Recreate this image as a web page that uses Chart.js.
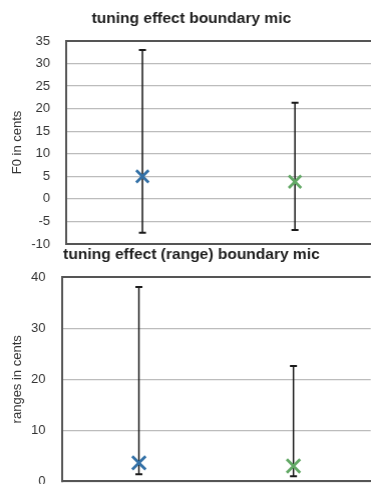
<!DOCTYPE html>
<html>
<head>
<meta charset="utf-8">
<script src="https://cdn.jsdelivr.net/npm/chart.js@4/dist/chart.umd.min.js"></script>
<style>
  html, body { margin: 0; padding: 0; background: #fff; overflow: hidden; width: 371px; height: 484px; }
  .wrap { position: absolute; left: 0; }
  #w1 { top: 0; width: 381.7px; height: 268px; }
  #w2 { top: 240px; width: 381.9px; height: 265.3px; }
</style>
</head>
<body>
<div class="wrap" id="w1"><canvas id="c1"></canvas></div>
<div class="wrap" id="w2"><canvas id="c2"></canvas></div>
<script>
// ---- data ----
const categories = ['group 1', 'group 2'];
const markerColors = ['#3270a6', '#62a865'];

const tuningMean = [5.0, 3.8];
const tuningHigh = [33.0, 21.3];
const tuningLow = [-7.5, -6.9];
const tuningTicks = [-10, -5, 0, 5, 10, 15, 20, 25, 30, 35];

const rangeMean = [3.6, 3.0];
const rangeHigh = [38.1, 22.6];
const rangeLow = [1.4, 1.0];
const rangeTicks = [0, 10, 20, 30, 40];

const FONT = "'Liberation Sans', Arial, Helvetica, sans-serif";

// error bars drawn through the scales
const errorBarPlugin = {
  id: 'errorBars',
  beforeDatasetsDraw(chart, args, opts) {
    const ctx = chart.ctx;
    const xs = chart.scales.x, ys = chart.scales.y;
    ctx.save();
    ctx.strokeStyle = '#1a1a1a';
    opts.low.forEach((lo, i) => {
      const hi = opts.high[i];
      const x = xs.getPixelForValue(i);
      const yl = ys.getPixelForValue(lo);
      const yh = ys.getPixelForValue(hi);
      ctx.lineWidth = 1.5;
      ctx.beginPath();
      ctx.moveTo(x, yl); ctx.lineTo(x, yh);
      ctx.stroke();
      ctx.lineWidth = 2;
      ctx.beginPath();
      ctx.moveTo(x - 3.5, yl); ctx.lineTo(x + 3.5, yl);
      ctx.moveTo(x - 3.5, yh); ctx.lineTo(x + 3.5, yh);
      ctx.stroke();
    });
    ctx.restore();
  }
};

function makeChart(id, cfg) {
  const yMin = cfg.ticks[0], yMax = cfg.ticks[cfg.ticks.length - 1];
  return new Chart(document.getElementById(id), {
    type: 'line',
    data: {
      labels: categories,
      datasets: [{
        data: cfg.mean,
        showLine: false,
        pointStyle: 'crossRot',
        pointRadius: cfg.radius,
        pointHoverRadius: cfg.radius,
        pointBorderWidth: 2.8,
        pointBorderColor: markerColors,
        pointBackgroundColor: markerColors
      }]
    },
    options: {
      responsive: true,
      maintainAspectRatio: false,
      animation: false,
      events: [],
      layout: { padding: { left: 0, right: 0, top: 0, bottom: 0 } },
      plugins: {
        legend: { display: false },
        tooltip: { enabled: false },
        title: {
          display: true,
          text: cfg.title,
          color: '#1e1e1e',
          font: { family: FONT, size: 15.5, weight: 'bold', lineHeight: 1.2 },
          padding: { top: cfg.titleTop, bottom: cfg.titleBottom }
        },
        errorBars: { low: cfg.low, high: cfg.high }
      },
      scales: {
        x: {
          type: 'category',
          offset: true,
          grid: { display: false, drawTicks: false },
          ticks: { display: false },
          border: { display: true, color: '#555', width: 2 },
          afterFit: s => { s.height = cfg.xHeight; }
        },
        y: {
          min: yMin,
          max: yMax,
          afterBuildTicks: s => { s.ticks = cfg.ticks.map(v => ({ value: v })); },
          grid: {
            drawTicks: false,
            color: c => (c.tick && c.tick.value === yMax) ? '#555' : '#bcbcbc',
            lineWidth: c => (c.tick && c.tick.value === yMax) ? 2 : 1.3
          },
          border: { display: true, color: '#555', width: 2 },
          ticks: {
            color: '#333',
            padding: 16,
            font: { family: FONT, size: 13 }
          },
          title: {
            display: true,
            text: cfg.yTitle,
            color: '#333',
            font: { family: FONT, size: 13 },
            padding: { top: 10, bottom: 0 }
          },
          afterFit: s => { s.width = cfg.yWidth; }
        }
      }
    },
    plugins: [errorBarPlugin]
  });
}

makeChart('c1', {
  title: 'tuning effect boundary mic',
  yTitle: 'F0 in cents',
  mean: tuningMean, low: tuningLow, high: tuningHigh, ticks: tuningTicks,
  titleTop: 9, titleBottom: 13.4, xHeight: 24, yWidth: 66, radius: 8.7
});

makeChart('c2', {
  title: 'tuning effect (range) boundary mic',
  yTitle: 'ranges in cents',
  mean: rangeMean, low: rangeLow, high: rangeHigh, ticks: rangeTicks,
  titleTop: 5, titleBottom: 13.7, xHeight: 24, yWidth: 61.5, radius: 9.4
});
</script>
</body>
</html>
